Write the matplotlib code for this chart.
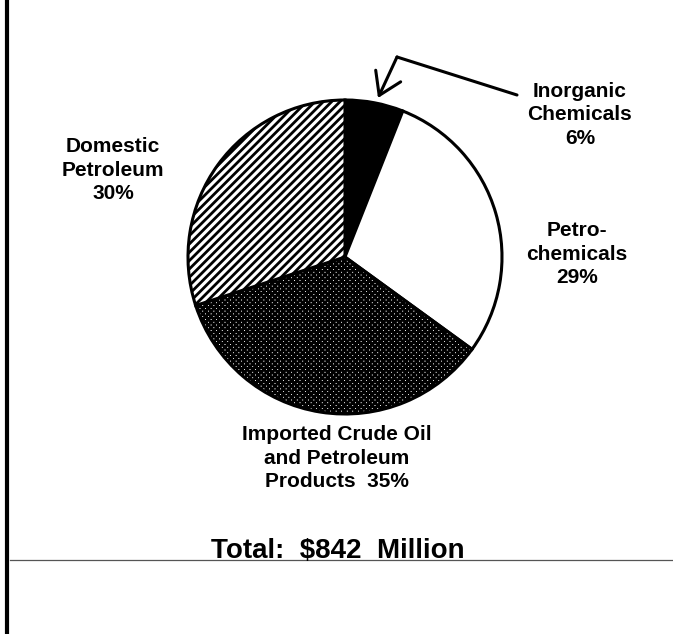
import matplotlib
matplotlib.use('Agg')
import matplotlib.pyplot as plt

# shares of the $842 million total, clockwise from 12 o'clock
categories = ['Inorganic Chemicals', 'Petrochemicals',
              'Imported Crude Oil and Petroleum Products', 'Domestic Petroleum']
shares = [6, 29, 35, 30]
total_label = 'Total:  $842  Million'

label_text = ['Inorganic\nChemicals\n6%', 'Petro-\nchemicals\n29%',
              'Imported Crude Oil\nand Petroleum\nProducts  35%', 'Domestic\nPetroleum\n30%']

plt.rcParams['font.family'] = ['Liberation Sans', 'DejaVu Sans']
plt.rcParams['hatch.linewidth'] = 2.0

W, H = 673, 634
fig = plt.figure(figsize=(W / 100, H / 100), dpi=100)
ax = fig.add_axes([0, 0, 1, 1])
ax.set_xlim(0, W)
ax.set_ylim(0, H)
ax.set_aspect('equal')
ax.axis('off')

fills = ['black', 'white', 'white', 'white']
hatches = [None, None, 'xxxxxx', '////']

wedges, _ = ax.pie(shares, center=(345, 377), radius=157, startangle=90,
                   counterclock=False, colors=fills,
                   wedgeprops=dict(edgecolor='black', linewidth=2.2))
for w, h in zip(wedges, hatches):
    if h:
        w.set_hatch(h)
ax.set_xlim(0, W)
ax.set_ylim(0, H)

# labels
txt = dict(fontsize=15, fontweight='bold', ha='center', va='center', linespacing=1.3)
ax.text(580, 519, label_text[0], **txt)
ax.text(577, 380, label_text[1], **txt)
ax.text(337, 176, label_text[2], **txt)
ax.text(113, 464, label_text[3], **txt)

# bent arrow pointing to the small slice
ax.plot([517, 397], [539, 577], color='black', lw=2.2, solid_capstyle='round')
ax.annotate('', xy=(378, 536), xytext=(397, 577),
            arrowprops=dict(arrowstyle='->,head_length=0.7,head_width=0.45',
                            color='black', lw=2.2, mutation_scale=22,
                            shrinkA=0, shrinkB=0))

# total line and frame edge
ax.plot([10, W], [74, 74], color='#555555', lw=0.9)
ax.text(338, 76, total_label, fontsize=20, fontweight='bold', ha='center', va='baseline')
ax.axvline(7, color='black', lw=3)

fig.savefig('out.png', dpi=100)
